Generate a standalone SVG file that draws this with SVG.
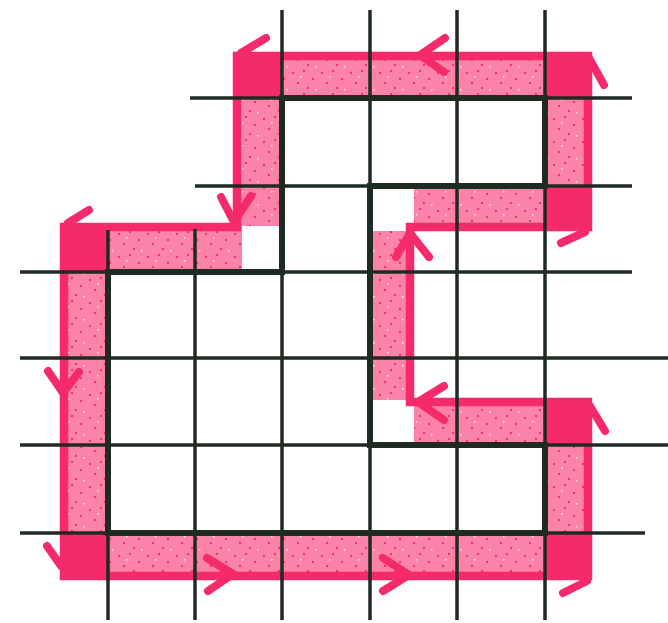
<svg xmlns="http://www.w3.org/2000/svg" width="668" height="623" viewBox="0 0 668 623">
<defs>
<pattern id="stip" width="29" height="23" patternUnits="userSpaceOnUse">
<rect width="29" height="23" fill="#fb82a9"/>
<rect x="2" y="3" width="2" height="2" fill="#f0306e"/>
<rect x="13" y="1" width="2" height="2" fill="#f0306e"/>
<rect x="22" y="9" width="2" height="2" fill="#f0306e"/>
<rect x="7" y="13" width="2" height="2" fill="#f0306e"/>
<rect x="17" y="18" width="2" height="2" fill="#f0306e"/>
<rect x="10" y="7" width="1.5" height="1.5" fill="#fde6ee"/>
<rect x="25" y="20" width="1.5" height="1.5" fill="#fde6ee"/>
</pattern>
<style>
.band{fill:url(#stip)}
.dark{fill:#f52a6a}
.edge{fill:none;stroke:#f52a6a;stroke-width:8.5;stroke-linejoin:miter}
.hook{fill:none;stroke:#f52a6a;stroke-width:8;stroke-linecap:round}
.chev{fill:none;stroke:#f52a6a;stroke-width:8;stroke-linecap:round;stroke-linejoin:miter}
.thin{stroke:#1f2a22;stroke-width:3.5;fill:none}
.thick{stroke:#1f2a22;stroke-width:6;fill:none;stroke-linecap:square}
</style>
</defs>
<rect width="668" height="623" fill="#ffffff"/>
<g id="band">
<rect class="band" x="233" y="52" width="359" height="46"/>
<rect class="band" x="233" y="98" width="49" height="128"/>
<rect class="band" x="60" y="223" width="182" height="49"/>
<rect class="band" x="60" y="272" width="48" height="308"/>
<rect class="band" x="108" y="533" width="484" height="47"/>
<rect class="band" x="545" y="400" width="47" height="133"/>
<rect class="band" x="414" y="400" width="131" height="45"/>
<rect class="band" x="370" y="231" width="44" height="169"/>
<rect class="band" x="414" y="186" width="131" height="45"/>
<rect class="band" x="545" y="98" width="47" height="88"/>
</g>
<g id="path-edge">
<path class="edge" d="M588 56 H237 V227 H64 V576 H588 V402 H410 V227 H588 Z"/>
<rect class="dark" x="233" y="52" width="49" height="46" rx="4"/>
<rect class="dark" x="545" y="52" width="47" height="46" rx="4"/>
<rect class="dark" x="545" y="186" width="47" height="45" rx="4"/>
<rect class="dark" x="545" y="400" width="47" height="45" rx="4"/>
<rect class="dark" x="545" y="533" width="47" height="47" rx="4"/>
<rect class="dark" x="60" y="533" width="48" height="47" rx="4"/>
<rect class="dark" x="60" y="223" width="48" height="49" rx="4"/>
</g>
<g id="hooks">
<line class="hook" x1="241" y1="53" x2="266" y2="38"/>
<line class="hook" x1="589" y1="58" x2="604" y2="85"/>
<line class="hook" x1="585" y1="232" x2="561" y2="243"/>
<line class="hook" x1="590" y1="406" x2="605" y2="431"/>
<line class="hook" x1="587" y1="581" x2="563" y2="593"/>
<line class="hook" x1="61" y1="566" x2="47" y2="546"/>
<line class="hook" x1="68" y1="223" x2="89" y2="210"/>
</g>
<g id="arrows">
<polyline class="chev" points="445,38 420,55 444,72"/>
<polyline class="chev" points="221,197 234,222 251,196"/>
<polyline class="chev" points="48,371 63,393 79,372"/>
<polyline class="chev" points="207,558 233,574 208,591"/>
<polyline class="chev" points="383,558 409,575 383,591"/>
<polyline class="chev" points="396,257 410,233 429,257"/>
<polyline class="chev" points="444,386 418,402 444,420"/>
</g>
<g id="grid">
<line class="thin" x1="108" y1="230" x2="108" y2="620"/>
<line class="thin" x1="195" y1="229" x2="195" y2="620"/>
<line class="thin" x1="282" y1="10" x2="282" y2="620"/>
<line class="thin" x1="370" y1="10" x2="370" y2="620"/>
<line class="thin" x1="457" y1="10" x2="457" y2="620"/>
<line class="thin" x1="545" y1="10" x2="545" y2="620"/>
<line class="thin" x1="190" y1="98" x2="632" y2="98"/>
<line class="thin" x1="195" y1="186" x2="632" y2="186"/>
<line class="thin" x1="20" y1="272" x2="632" y2="272"/>
<line class="thin" x1="20" y1="358" x2="668" y2="358"/>
<line class="thin" x1="20" y1="445" x2="668" y2="445"/>
<line class="thin" x1="20" y1="533" x2="645" y2="533"/>
<path class="thick" d="M282 98 H545 V186 H370 V445 H545 V533 H108 V272 H282 Z"/>
</g>
</svg>
